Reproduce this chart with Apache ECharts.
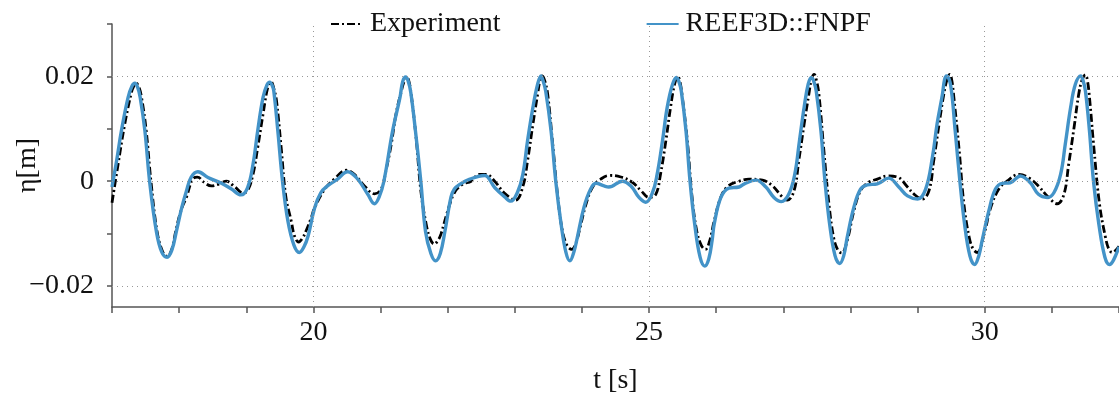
<!DOCTYPE html>
<html lang="en">

<head>
  <meta charset="UTF-8" />
  <title>Free surface elevation</title>
  <script src="https://cdn.jsdelivr.net/npm/echarts@6/dist/echarts.min.js"></script>
  <style>
    html, body { margin: 0; padding: 0; background: #fff; }
    #main { width: 1119px; height: 397px; }
  </style>
</head>

<body>
  <div id="main"></div>

  <script type="text/javascript">
    // 实验数据 (dash-dot black)
    var expTime = [
      17.00, 17.09, 17.19, 17.29, 17.32, 17.36, 17.40, 17.44, 17.51, 17.58, 17.67, 17.75, 17.82, 17.89, 17.95, 18.03, 18.11, 18.20, 18.27, 18.38, 18.48, 18.58, 18.70, 18.83, 18.95,
      19.02, 19.10, 19.17, 19.25, 19.32, 19.37, 19.41, 19.45, 19.52, 19.59, 19.67, 19.72, 19.78, 19.84, 19.89, 19.97, 20.02, 20.17, 20.31, 20.49, 20.61, 20.76, 20.91,
      21.01, 21.08, 21.16, 21.23, 21.31, 21.35, 21.39, 21.42, 21.45, 21.53, 21.60, 21.68, 21.74, 21.80, 21.86, 21.90, 22.00, 22.10, 22.22, 22.35, 22.47, 22.57, 22.70, 22.84, 23.01,
      23.12, 23.19, 23.27, 23.34, 23.375, 23.41, 23.45, 23.49, 23.56, 23.64, 23.71, 23.78, 23.85, 23.91, 23.96, 24.06, 24.16, 24.28, 24.41, 24.58, 24.75, 24.88, 25.00,
      25.10, 25.17, 25.25, 25.32, 25.38, 25.43, 25.46, 25.49, 25.57, 25.64, 25.71, 25.78, 25.84, 25.90, 25.97, 26.07, 26.18, 26.34, 26.49, 26.69, 26.84, 26.97, 27.06,
      27.16, 27.23, 27.31, 27.38, 27.42, 27.46, 27.49, 27.53, 27.60, 27.68, 27.75, 27.81, 27.87, 27.95, 28.05, 28.15, 28.27, 28.40, 28.55, 28.70, 28.85, 28.95, 29.07,
      29.17, 29.24, 29.32, 29.39, 29.44, 29.48, 29.51, 29.54, 29.62, 29.69, 29.77, 29.83, 29.89, 29.99, 30.09, 30.21, 30.33, 30.51, 30.66, 30.80, 30.93, 31.08,
      31.18, 31.25, 31.33, 31.40, 31.45, 31.50, 31.53, 31.56, 31.63, 31.71, 31.80, 31.85, 31.90, 32.00
    ];
    var expEta = [
      -0.0041, 0.0032, 0.0109, 0.0170, 0.0180, 0.0187, 0.0180, 0.0160, 0.0096, 0.0000, -0.0095, -0.0133, -0.0143, -0.0130, -0.0095, -0.0055, -0.0030, 0.0004, 0.0008, -0.0003, -0.0009, -0.0006, 0.0000, -0.0011, -0.0022,
      -0.0018, 0.0013, 0.0064, 0.0128, 0.0179, 0.0190, 0.0177, 0.0154, 0.0064, -0.0030, -0.0076, -0.0105, -0.0116, -0.0108, -0.0095, -0.0069, -0.0050, -0.0015, 0.0004, 0.0021, 0.0013, -0.0009, -0.0024,
      -0.0015, 0.0020, 0.0071, 0.0128, 0.0172, 0.0190, 0.0199, 0.0192, 0.0172, 0.0083, -0.0018, -0.0082, -0.0110, -0.0120, -0.0112, -0.0101, -0.0057, -0.0022, -0.0006, 0.0000, 0.0013, 0.0013, 0.0000, -0.0022, -0.0036,
      -0.0010, 0.0039, 0.0109, 0.0166, 0.0192, 0.0201, 0.0190, 0.0166, 0.0077, -0.0030, -0.0095, -0.0123, -0.0130, -0.0118, -0.0095, -0.0044, -0.0011, 0.0004, 0.0011, 0.0008, -0.0002, -0.0018, -0.0031,
      -0.0025, 0.0013, 0.0077, 0.0141, 0.0185, 0.0200, 0.0190, 0.0166, 0.0077, -0.0030, -0.0095, -0.0123, -0.0130, -0.0115, -0.0076, -0.0030, -0.0009, 0.0000, 0.0004, 0.0002, -0.0009, -0.0028, -0.0036,
      -0.0018, 0.0039, 0.0109, 0.0166, 0.0195, 0.0204, 0.0194, 0.0166, 0.0064, -0.0044, -0.0108, -0.0131, -0.0137, -0.0114, -0.0057, -0.0018, -0.0002, 0.0004, 0.0010, 0.0008, -0.0011, -0.0025, -0.0034,
      -0.0018, 0.0039, 0.0109, 0.0166, 0.0195, 0.0204, 0.0192, 0.0160, 0.0058, -0.0044, -0.0108, -0.0130, -0.0136, -0.0101, -0.0050, -0.0015, 0.0000, 0.0013, 0.0006, -0.0009, -0.0028, -0.0043,
      -0.0025, 0.0032, 0.0102, 0.0166, 0.0193, 0.0203, 0.0192, 0.0160, 0.0058, -0.0044, -0.0108, -0.0130, -0.0136, -0.0124
    ];

    // REEF3D::FNPF 数值结果 (solid blue)
    var fnpfTime = [
      17.00, 17.07, 17.14, 17.24, 17.30, 17.34, 17.38, 17.42, 17.49, 17.56, 17.66, 17.74, 17.82, 17.89, 17.96, 18.04, 18.11, 18.18, 18.28, 18.43, 18.63, 18.78, 18.92,
      19.02, 19.10, 19.17, 19.25, 19.31, 19.35, 19.385, 19.41, 19.47, 19.54, 19.62, 19.71, 19.79, 19.86, 19.92, 20.02, 20.11, 20.21, 20.36, 20.51, 20.66, 20.81, 20.91,
      20.98, 21.05, 21.18, 21.29, 21.33, 21.375, 21.41, 21.45, 21.52, 21.60, 21.67, 21.75, 21.82, 21.89, 21.96, 22.05, 22.10, 22.18, 22.33, 22.55, 22.70, 22.85, 22.94,
      23.04, 23.12, 23.19, 23.27, 23.34, 23.39, 23.42, 23.46, 23.54, 23.61, 23.69, 23.76, 23.82, 23.88, 23.93, 24.03, 24.13, 24.21, 24.33, 24.40, 24.60, 24.73, 24.85, 24.95,
      25.05, 25.12, 25.20, 25.27, 25.35, 25.41, 25.445, 25.48, 25.55, 25.61, 25.68, 25.76, 25.83, 25.89, 25.94, 25.97, 26.07, 26.19, 26.34, 26.42, 26.59, 26.74, 26.86, 26.97,
      27.08, 27.17, 27.24, 27.31, 27.37, 27.42, 27.455, 27.49, 27.56, 27.62, 27.69, 27.77, 27.84, 27.90, 27.95, 28.05, 28.15, 28.25, 28.40, 28.57, 28.72, 28.85, 29.00,
      29.12, 29.22, 29.29, 29.37, 29.40, 29.43, 29.49, 29.56, 29.63, 29.70, 29.78, 29.85, 29.91, 29.96, 30.06, 30.16, 30.26, 30.38, 30.53, 30.68, 30.80, 30.93,
      31.03, 31.13, 31.20, 31.28, 31.35, 31.43, 31.465, 31.50, 31.56, 31.62, 31.70, 31.79, 31.86, 31.92, 32.00
    ];
    var fnpfEta = [
      -0.0011, 0.0040, 0.0096, 0.0160, 0.0182, 0.0187, 0.0180, 0.0160, 0.0096, 0.0000, -0.0095, -0.0135, -0.0145, -0.0132, -0.0095, -0.0050, -0.0018, 0.0008, 0.0018, 0.0007, -0.0004, -0.0015, -0.0026,
      -0.0012, 0.0032, 0.0096, 0.0160, 0.0184, 0.0189, 0.0183, 0.0172, 0.0096, 0.0000, -0.0076, -0.0122, -0.0136, -0.0125, -0.0105, -0.0050, -0.0022, -0.0009, 0.0004, 0.0018, 0.0004, -0.0025, -0.0043,
      -0.0030, 0.0000, 0.0096, 0.0160, 0.0190, 0.0199, 0.0192, 0.0170, 0.0096, 0.0000, -0.0096, -0.0138, -0.0152, -0.0138, -0.0095, -0.0030, -0.0015, -0.0006, 0.0004, 0.0011, -0.0012, -0.0030, -0.0038,
      -0.0021, 0.0013, 0.0077, 0.0141, 0.0185, 0.0201, 0.0192, 0.0172, 0.0096, 0.0000, -0.0082, -0.0135, -0.0152, -0.0135, -0.0108, -0.0050, -0.0015, -0.0004, -0.0009, -0.0011, 0.0000, -0.0009, -0.0031, -0.0040,
      -0.0022, 0.0013, 0.0077, 0.0141, 0.0185, 0.0198, 0.0190, 0.0172, 0.0096, 0.0000, -0.0082, -0.0145, -0.0162, -0.0148, -0.0112, -0.0082, -0.0031, -0.0013, -0.0011, -0.0005, 0.0002, -0.0011, -0.0031, -0.0039,
      -0.0025, 0.0013, 0.0077, 0.0141, 0.0185, 0.0198, 0.0190, 0.0172, 0.0096, 0.0000, -0.0082, -0.0142, -0.0157, -0.0142, -0.0108, -0.0050, -0.0015, -0.0007, -0.0005, 0.0006, -0.0011, -0.0028, -0.0034,
      -0.0015, 0.0045, 0.0109, 0.0166, 0.0193, 0.0201, 0.0185, 0.0096, 0.0000, -0.0082, -0.0143, -0.0159, -0.0143, -0.0114, -0.0057, -0.0015, -0.0004, -0.0003, 0.0010, -0.0003, -0.0025, -0.0031,
      -0.0022, 0.0013, 0.0071, 0.0141, 0.0185, 0.0201, 0.0192, 0.0172, 0.0096, 0.0000, -0.0082, -0.0145, -0.0159, -0.0150, -0.0125
    ];

    // 坐标轴刻度
    var xLabelValues = [20, 25, 30];
    var yTickValues = [-0.02, -0.01, 0, 0.01, 0.02, 0.03];
    var yLabelValues = [-0.02, 0, 0.02];

    function zip(ts, vs) {
      return ts.map(function (t, i) { return [t, vs[i]]; });
    }

    var fontFamily = 'Liberation Serif';
    var axisColor = '#555';
    var gridStyle = { color: '#999', width: 1, type: [1, 4] };

    var myChart = echarts.init(document.getElementById('main'));
    var option = {
      animation: false,
      textStyle: { fontFamily: fontFamily },
      legend: {
        data: ['Experiment', 'REEF3D::FNPF'],
        left: 325,
        top: 5,
        itemWidth: 32,
        itemHeight: 14,
        itemGap: 145,
        itemStyle: { opacity: 0 },
        textStyle: { fontFamily: fontFamily, fontSize: 28, color: '#111', padding: [0, 0, 0, 2] },
      },
      grid: { left: 112, right: 0, top: 24, bottom: 90, containLabel: false, outerBoundsMode: 'none' },
      xAxis: {
        type: 'value',
        min: 17,
        max: 32,
        interval: 1,
        name: 't [s]',
        nameLocation: 'middle',
        nameGap: 60,
        nameMoveOverlap: false,
        nameTextStyle: { fontFamily: fontFamily, fontSize: 28, color: '#111' },
        axisLine: { show: true, onZero: false, lineStyle: { color: axisColor, width: 1.5 } },
        axisTick: { show: true, length: 6, lineStyle: { color: axisColor, width: 1.5 } },
        axisLabel: {
          customValues: xLabelValues,
          margin: 12,
          fontFamily: fontFamily,
          fontSize: 28,
          color: '#111',
        },
        splitLine: { show: false },
      },
      yAxis: {
        type: 'value',
        min: -0.024,
        max: 0.03,
        name: 'η[m]',
        nameLocation: 'middle',
        nameGap: 70,
        nameMoveOverlap: false,
        nameTextStyle: { fontFamily: fontFamily, fontSize: 28, color: '#111' },
        axisLine: { show: true, onZero: false, lineStyle: { color: axisColor, width: 1.5 } },
        axisTick: { show: true, length: 5, customValues: yTickValues, lineStyle: { color: axisColor, width: 1.5 } },
        axisLabel: {
          customValues: yLabelValues,
          margin: 18,
          fontFamily: fontFamily,
          fontSize: 28,
          color: '#111',
          formatter: function (v) {
            if (Math.abs(v) < 1e-9) return '0';
            return v.toFixed(2).replace('-', '\u2212');
          },
        },
        splitLine: { show: false },
      },
      series: [
        {
          // 网格线 (dotted)
          name: 'grid',
          type: 'line',
          data: [],
          z: 1,
          silent: true,
          markLine: {
            silent: true,
            symbol: ['none', 'none'],
            label: { show: false },
            lineStyle: gridStyle,
            emphasis: { disabled: true },
            data: [
              { yAxis: 0.02 }, { yAxis: 0 }, { yAxis: -0.02 },
              { xAxis: 20 }, { xAxis: 25 }, { xAxis: 30 },
            ],
          },
        },
        {
          name: 'Experiment',
          type: 'line',
          data: zip(expTime, expEta),
          symbol: 'none',
          smooth: 0.4,
          z: 2,
          lineStyle: { color: '#000', width: 2.8, type: [8, 3, 2, 3] },
          itemStyle: { color: '#000' },
        },
        {
          name: 'REEF3D::FNPF',
          type: 'line',
          data: zip(fnpfTime, fnpfEta),
          symbol: 'none',
          smooth: 0.4,
          z: 3,
          lineStyle: { color: '#4393c8', width: 3.4 },
          itemStyle: { color: '#4393c8' },
        },
      ],
    };
    myChart.setOption(option);
  </script>
</body>

</html>
